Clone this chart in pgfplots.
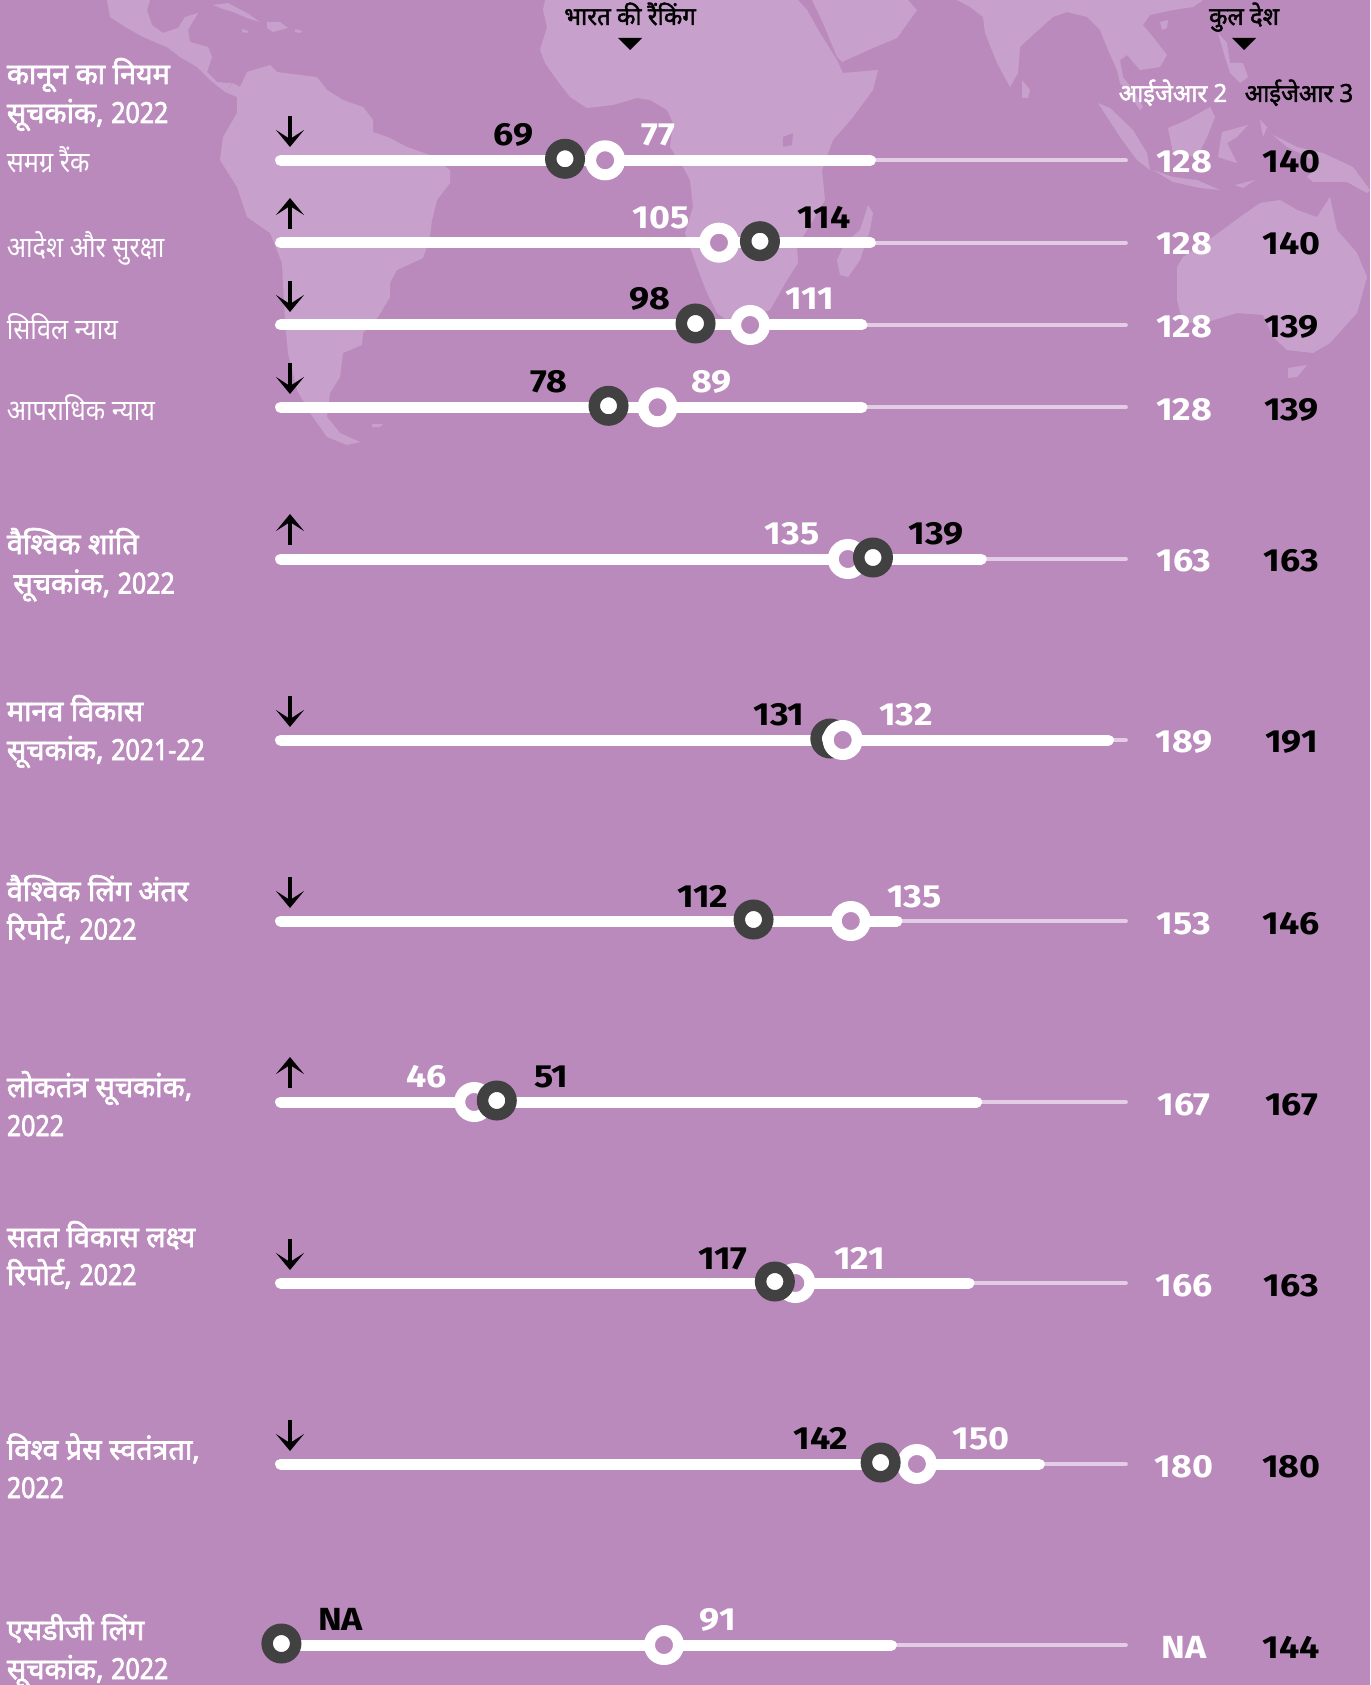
\documentclass[border=0pt]{standalone}
\usepackage{pgfplots}
\pgfplotsset{compat=1.18}
\usepackage{pgfplotstable}
\usepackage{fontspec}
\usetikzlibrary{arrows.meta}
\setmainfont[Script=Devanagari]{Noto Sans}
\newfontfamily\hr[Script=Devanagari,FakeStretch=0.87]{Noto Sans}
\newfontfamily\hb[Script=Devanagari,FakeStretch=0.99,FakeBold=2.4]{Noto Sans}
\newfontfamily\hbd[FakeStretch=0.86,FakeBold=2.4]{Noto Sans}
\newfontfamily\hc[Script=Devanagari,FakeStretch=0.96,FakeBold=1.8]{Noto Sans}
\newfontfamily\nm[FakeStretch=1.12]{Fira Sans}
\newcommand{\dg}[1]{{\hbd #1}}
\definecolor{bg}{HTML}{BB8ABD}
\definecolor{land}{HTML}{C7A1CC}
\definecolor{track}{HTML}{E3CDE6}
\definecolor{dk}{HTML}{414141}
% label helpers: x, y in reference pixels
\newcommand{\Num}[4]{\node[anchor=base,yshift=-5.5pt,inner sep=0pt,text=#3,font=\nm\bfseries\fontsize{16}{17}\selectfont] at (axis cs:#1,#2) {#4};}
\newcommand{\HB}[4]{\node[anchor=base west,yshift=-5pt,inner sep=0pt,text=#3,font=\hb\fontsize{14.5}{16}\selectfont] at (axis cs:#1,#2) {#4};}
\newcommand{\HR}[4]{\node[anchor=base west,yshift=-5.5pt,inner sep=0pt,text=#3,font=\hr\fontsize{14.5}{16}\selectfont] at (axis cs:#1,#2) {#4};}
\newcommand{\HC}[4]{\node[anchor=base,yshift=-4.5pt,inner sep=0pt,text=#3,font=\hc\fontsize{12.5}{14}\selectfont] at (axis cs:#1,#2) {#4};}
\newcommand{\Dn}[2]{\draw[black,line width=2.4pt,-{Stealth[length=8.5pt,width=14pt,inset=4.5pt]}] (axis cs:#1,#2-44) -- (axis cs:#1,#2-13);}
\newcommand{\Up}[2]{\draw[black,line width=2.4pt,-{Stealth[length=8.5pt,width=14pt,inset=4.5pt]}] (axis cs:#1,#2-14) -- (axis cs:#1,#2-45);}
\newcommand{\Tri}[2]{\fill[black] (axis cs:#1-12,#2-6) -- (axis cs:#1+12,#2-6) -- (axis cs:#1,#2+6) -- cycle;}
\pgfplotsset{
  base/.style={width=685pt,height=842.5pt,scale only axis,hide axis,ymin=0,ymax=1685,y dir=reverse,clip=true},
  ld/.style={fill=land,draw=none,forget plot},
}
% rank tables
\pgfplotstableread{
x y
1.3 160.3
139.6 160.3
nan nan
1.3 242.7
139.6 242.7
nan nan
1.3 325
137.6 325
nan nan
1.3 407.3
137.6 407.3
nan nan
1.3 559
165.6 559
nan nan
1.3 740
195.4 740
nan nan
1.3 921
145.8 921
nan nan
1.3 1102
164.5 1102
nan nan
1.3 1283
162.7 1283
nan nan
1.3 1464
179.2 1464
nan nan
1.3 1645
144.5 1645
}\barT
\pgfplotstableread{
x y
100 160.3
199.5 160.3
nan nan
100 242.7
199.5 242.7
nan nan
100 325
199.5 325
nan nan
100 407.3
199.5 407.3
nan nan
100 559
199.5 559
nan nan
100 740
199.5 740
nan nan
100 921
199.5 921
nan nan
100 1102
199.5 1102
nan nan
100 1283
199.5 1283
nan nan
100 1464
199.5 1464
nan nan
100 1645
199.5 1645
}\trackT
\pgfplotstableread{
x y
77.4 160.3
104.1 242.7
111.4 325
89.7 407.3
134.3 559
135 921
46.7 1102
122 1283
150.5 1464
91.2 1645
}\whiteT
\pgfplotstableread{
x y
133.1 740
}\whiteTop
\pgfplotstableread{
x y
68 158.8
113.7 241.2
98.6 323.5
78.2 405.8
140.2 557.5
130.2 738.5
112.2 919.5
52 1100.5
117.2 1281.5
142 1462.5
1.5 1643.5
}\darkT
\begin{document}
\begin{tikzpicture}
\path[use as bounding box] (0,0) rectangle (685pt,842.5pt);
\clip (0,0) rectangle (685pt,842.5pt);
\begin{axis}[base,xmin=0,xmax=1370]
\addplot[fill=bg,draw=none,forget plot] coordinates {(0,0)(1370,0)(1370,1685)(0,1685)} --cycle;
% central america
\addplot[ld] coordinates {(107,0)(110,17)(127,28)(143,37)(157,43)(167,47)(180,57)(197,67)(210,80)(225,92)(232,83)(227,83)(217,82)(207,72)(212,57)(208,47)(190,42)(188,30)(198,13)(185,17)(178,28)(163,33)(152,25)(147,10)(150,0)} --cycle;
\addplot[ld] coordinates {(213,5)(228,3)(247,13)(260,22)(247,18)(233,12)(220,8)} --cycle;
\addplot[ld] coordinates {(267,22)(280,22)(288,28)(273,32)(267,28)} --cycle;
\addplot[ld] coordinates {(242,29)(248,31)(247,33)(242,32)} --cycle;
\addplot[ld] coordinates {(295,29)(302,31)(300,33)(295,32)} --cycle;
% south america
\addplot[ld] coordinates {(225,92)(233,83)(240,87)(247,72)(270,65)(277,72)(300,75)(317,77)(327,90)(343,100)(363,107)(373,120)(373,132)(390,138)(407,147)(430,155)(450,170)(450,183)(437,200)(432,220)(430,237)(423,258)(397,270)(390,283)(390,297)(378,317)(363,333)(362,345)(343,353)(340,377)(330,393)(327,417)(340,433)(360,442)(347,445)(327,437)(310,413)(297,390)(288,353)(285,320)(282,263)(270,233)(247,217)(237,187)(220,160)(223,137)(237,113)(237,97)} --cycle;
\addplot[ld] coordinates {(372,424)(383,424)(380,427)(372,427)} --cycle;
% africa
\addplot[ld] coordinates {(545,0)(543,10)(547,27)(540,50)(545,63)(557,80)(570,97)(587,108)(613,105)(637,98)(650,100)(667,110)(673,123)(670,147)(683,167)(690,180)(693,207)(685,233)(697,267)(707,293)(717,313)(727,320)(750,317)(770,310)(787,280)(798,263)(797,247)(807,230)(825,200)(822,170)(833,140)(853,117)(873,90)(878,70)(843,73)(837,60)(820,33)(807,10)(798,0)} --cycle;
\addplot[fill=bg,draw=none,forget plot] coordinates {(783,137)(793,133)(792,145)(783,147)} --cycle;
\addplot[ld] coordinates {(868,205)(873,213)(870,230)(860,260)(848,277)(840,275)(837,260)(845,243)(860,230)} --cycle;
% arabia, asia
\addplot[ld] coordinates {(812,0)(823,23)(837,57)(842,62)(873,48)(897,38)(917,10)(908,0)} --cycle;
\addplot[ld] coordinates {(957,0)(970,7)(983,17)(985,33)(997,63)(1010,87)(1018,73)(1020,47)(1035,33)(1053,17)(1067,12)(1087,17)(1100,30)(1108,50)(1117,70)(1120,83)(1133,100)(1140,110)(1143,107)(1133,90)(1123,77)(1120,60)(1127,55)(1140,70)(1160,67)(1167,55)(1153,37)(1143,25)(1150,15)(1173,10)(1193,7)(1203,0)} --cycle;
\addplot[ld] coordinates {(1022,80)(1030,90)(1028,98)(1022,98)} --cycle;
\addplot[ld] coordinates {(1160,22)(1168,20)(1167,28)(1162,30)} --cycle;
\addplot[ld] coordinates {(1218,33)(1227,43)(1230,63)(1243,63)(1248,77)(1240,83)(1230,73)(1225,57)} --cycle;
\addplot[ld] coordinates {(1098,103)(1110,108)(1133,130)(1147,153)(1150,170)(1137,160)(1120,137)} --cycle;
\addplot[ld] coordinates {(1168,128)(1187,120)(1210,107)(1215,117)(1207,137)(1197,157)(1173,153)} --cycle;
\addplot[ld] coordinates {(1153,170)(1173,177)(1197,180)(1220,190)(1200,188)(1173,182)} --cycle;
\addplot[ld] coordinates {(1222,132)(1248,125)(1237,137)(1227,143)(1237,163)(1227,160)(1218,157)} --cycle;
\addplot[ld] coordinates {(1235,185)(1255,180)(1243,188)} --cycle;
\addplot[ld] coordinates {(1260,120)(1267,127)(1263,137)} --cycle;
\addplot[ld] coordinates {(1273,135)(1297,147)(1323,153)(1353,167)(1370,190)(1367,193)(1347,182)(1313,182)(1307,177)(1320,163)(1287,147)} --cycle;
% australia
\addplot[ld] coordinates {(1177,267)(1183,257)(1213,237)(1240,217)(1260,203)(1280,200)(1297,210)(1317,217)(1330,197)(1337,230)(1357,253)(1367,277)(1357,313)(1330,343)(1313,353)(1287,350)(1273,337)(1263,315)(1237,313)(1207,322)(1183,323)(1177,300)} --cycle;
\addplot[ld] coordinates {(1288,368)(1307,365)(1297,377)(1288,378)} --cycle;
% headers
\HC{630}{16}{black}{भारत की रैंकिंग}
\Tri{630}{44}
\HC{1244}{16}{black}{कुल देश}
\Tri{1244}{44}
\HC{1173}{93}{white}{आईजेआर 2}
\HC{1299}{93}{black}{आईजेआर 3}
% left labels
\HB{6.5}{74}{white}{कानून का नियम}
\HB{6.5}{113}{white}{सूचकांक, \dg{2022}}
\HR{6.5}{162}{white}{समग्र रैंक}
\HR{6.5}{246}{white}{आदेश और सुरक्षा}
\HR{6.5}{328}{white}{सिविल न्याय}
\HR{6.5}{409}{white}{आपराधिक न्याय}
\HB{6.5}{544}{white}{वैश्विक शांति}
\HB{13}{583.5}{white}{सूचकांक, \dg{2022}}
\HB{6.5}{711}{white}{मानव विकास}
\HB{6.5}{750}{white}{सूचकांक, \dg{2021-22}}
\HB{6.5}{891}{white}{वैश्विक लिंग अंतर}
\HB{6.5}{929.5}{white}{रिपोर्ट, \dg{2022}}
\HB{6.5}{1087}{white}{लोकतंत्र सूचकांक,}
\HB{6.5}{1126}{white}{\dg{2022}}
\HB{6.5}{1237}{white}{सतत विकास लक्ष्य}
\HB{6.5}{1275}{white}{रिपोर्ट, \dg{2022}}
\HB{6.5}{1449.5}{white}{विश्व प्रेस स्वतंत्रता,}
\HB{6.5}{1488}{white}{\dg{2022}}
\HB{6.5}{1630}{white}{एसडीजी लिंग}
\HB{6.5}{1669}{white}{सूचकांक, \dg{2022}}
% arrows
\Dn{290}{160}\Up{290}{243}\Dn{290}{325}\Dn{290}{407}\Up{290}{559}\Dn{290}{740}\Dn{290}{921}\Up{290}{1102}\Dn{290}{1283}\Dn{290}{1464}
% rank labels
\Num{513.6}{134.3}{black}{69}\Num{658.7}{134.3}{white}{77}
\Num{660.8}{217}{white}{105}\Num{824}{217}{black}{114}
\Num{650}{298.7}{black}{98}\Num{810}{298.7}{white}{111}
\Num{549}{381.4}{black}{78}\Num{711.3}{381.4}{white}{89}
\Num{792}{533}{white}{135}\Num{936}{533}{black}{139}
\Num{779}{714.5}{black}{131}\Num{905.8}{714.5}{white}{132}
\Num{702.7}{896}{black}{112}\Num{914.4}{896}{white}{135}
\Num{426.6}{1076.6}{white}{46}\Num{551.2}{1076.6}{black}{51}
\Num{723}{1258}{black}{117}\Num{859.6}{1258}{white}{121}
\Num{821}{1438.7}{black}{142}\Num{981}{1438.7}{white}{150}
\Num{340.6}{1619}{black}{NA}\Num{717.8}{1619}{white}{91}
% right columns
\Num{1184}{162}{white}{128}\Num{1291.5}{162}{black}{140}
\Num{1184}{244}{white}{128}\Num{1291.5}{244}{black}{140}
\Num{1184}{326}{white}{128}\Num{1291.5}{326}{black}{139}
\Num{1184}{409}{white}{128}\Num{1291.5}{409}{black}{139}
\Num{1184}{560}{white}{163}\Num{1291.5}{560}{black}{163}
\Num{1184}{741}{white}{189}\Num{1291.5}{741}{black}{191}
\Num{1184}{923}{white}{153}\Num{1291.5}{923}{black}{146}
\Num{1184}{1104}{white}{167}\Num{1291.5}{1104}{black}{167}
\Num{1184}{1285}{white}{166}\Num{1291.5}{1285}{black}{163}
\Num{1184}{1466}{white}{180}\Num{1291.5}{1466}{black}{180}
\Num{1184}{1647}{white}{NA}\Num{1291.5}{1647}{black}{144}
\end{axis}
\begin{axis}[base,xmin=-64.48,xmax=256.74,unbounded coords=jump]
\addplot[track,line width=2pt,line cap=round,forget plot] table[x=x,y=y] {\trackT};
\addplot[white,line width=5.5pt,line cap=round,forget plot] table[x=x,y=y] {\barT};
\addplot[only marks,mark=*,mark size=7.25pt,mark options={draw=white,fill=bg,line width=5.5pt},forget plot] table[x=x,y=y] {\whiteT};
\addplot[only marks,mark=*,mark size=7.12pt,mark options={draw=dk,fill=white,line width=5.75pt},forget plot] table[x=x,y=y] {\darkT};
\addplot[only marks,mark=*,mark size=7.25pt,mark options={draw=white,fill=bg,line width=5.5pt},forget plot] table[x=x,y=y] {\whiteTop};
\end{axis}
\end{tikzpicture}
\end{document}
